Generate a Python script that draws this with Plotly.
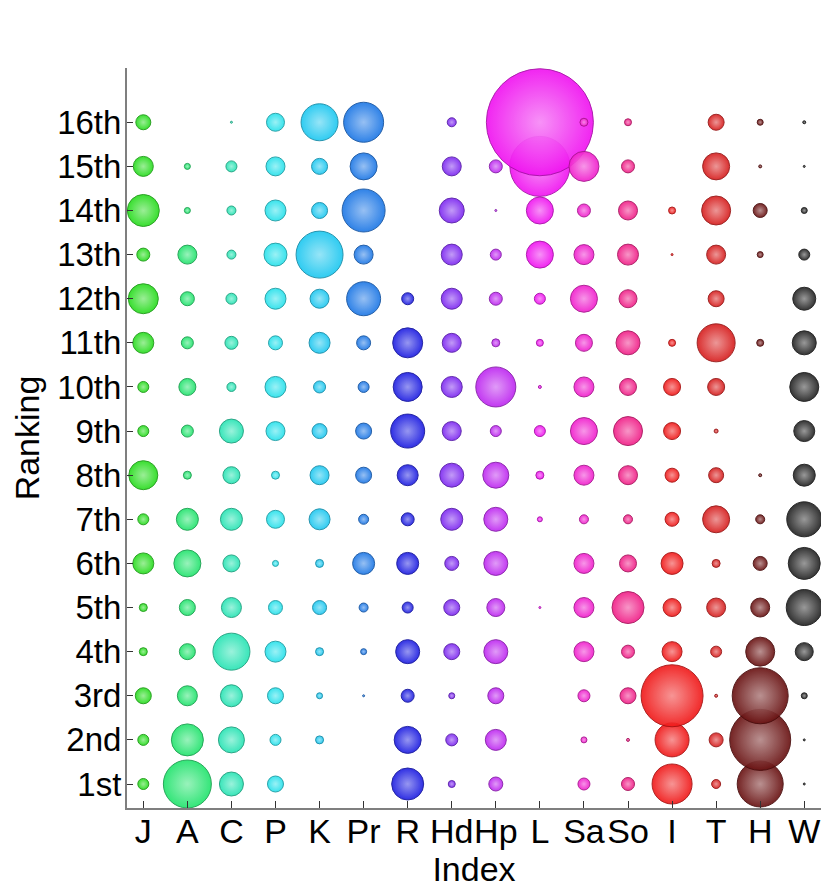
import numpy as np
import plotly.graph_objects as go

# rankings 1st..16th (y), index columns (x)
ranks = ["1st", "2nd", "3rd", "4th", "5th", "6th", "7th", "8th",
         "9th", "10th", "11th", "12th", "13th", "14th", "15th", "16th"]
indices = ["J", "A", "C", "P", "K", "Pr", "R", "Hd", "Hp", "L",
           "Sa", "So", "I", "T", "H", "W"]

# bubble weights per index, listed 1st -> 16th (0 = no bubble)
J  = [11, 11, 16, 8, 8, 21, 11, 29, 11, 11, 21, 30, 13, 32, 20, 15]
A  = [48, 32, 20, 16, 16, 27, 22, 8, 12, 17, 12, 14, 19, 6, 6, 0]
C  = [24, 26, 22, 37, 20, 17, 22, 17, 24, 9, 13, 11, 9, 9, 11, 2]
P  = [16, 11, 16, 21, 14, 6, 18, 8, 19, 21, 14, 21, 23, 21, 19, 18]
K  = [0, 8, 6, 8, 14, 8, 21, 19, 15, 12, 21, 19, 47, 16, 16, 37]
Pr = [0, 0, 2, 6, 9, 22, 10, 16, 16, 11, 14, 34, 19, 43, 27, 40]
R  = [32, 27, 13, 24, 11, 22, 13, 21, 34, 29, 30, 12, 0, 0, 0, 0]
Hd = [7, 12, 6, 16, 16, 14, 22, 24, 19, 21, 19, 21, 21, 25, 19, 9]
Hp = [14, 21, 16, 24, 18, 24, 24, 26, 11, 40, 8, 13, 11, 2, 13, 0]
L  = [0, 0, 0, 0, 2, 0, 5, 8, 11, 3, 7, 11, 27, 27, 60, 107]
Sa = [12, 6, 12, 20, 20, 20, 9, 20, 27, 20, 17, 27, 20, 13, 30, 8]
So = [13, 3, 16, 13, 32, 17, 9, 19, 29, 17, 24, 18, 21, 19, 13, 7]
I  = [40, 34, 62, 20, 18, 22, 14, 14, 17, 17, 7, 0, 2, 7, 0, 0]
T  = [9, 14, 3, 11, 19, 8, 27, 15, 4, 17, 38, 16, 19, 29, 27, 16]
H  = [46, 61, 56, 29, 19, 14, 9, 3, 0, 0, 7, 0, 6, 14, 3, 6]
W  = [2, 2, 6, 18, 36, 32, 35, 22, 21, 29, 24, 23, 11, 6, 2, 3]

series = [J, A, C, P, K, Pr, R, Hd, Hp, L, Sa, So, I, T, H, W]

colors = [(40, 220, 30), (35, 228, 110), (40, 228, 180), (40, 225, 235),
          (30, 200, 240), (30, 120, 230), (30, 30, 225), (125, 40, 240),
          (190, 40, 240), (240, 20, 240), (240, 30, 205), (240, 30, 135),
          (240, 25, 25), (215, 30, 30), (105, 18, 18), (35, 35, 35)]


def rgb(c):
    return "rgb(%d,%d,%d)" % c


def tint(c, f):
    return tuple(int(v + (255 - v) * f) for v in c)


def shade(c, f):
    return tuple(int(v * f) for v in c)


fig = go.Figure()
for i, (name, vals, col) in enumerate(zip(indices, series, colors)):
    vals = np.array(vals)
    keep = vals > 0
    fig.add_trace(go.Scatter(
        x=np.full(keep.sum(), i + 1),
        y=np.arange(1, 17)[keep],
        mode="markers",
        name=name,
        marker=dict(
            size=vals[keep],
            sizemode="diameter",
            sizeref=1,
            color=rgb(col),
            opacity=0.92,
            gradient=dict(type="radial", color=rgb(tint(col, 0.5))),
            line=dict(color=rgb(shade(col, 0.7)), width=1),
        ),
        hovertext=[name + " " + r for r, k in zip(ranks, keep) if k],
        hoverinfo="text",
    ))

fnt = dict(family="Liberation Sans, Arial, sans-serif", size=34, color="black")
yfnt = dict(fnt, size=33)

# page body adds an 8px margin, so the figure is a little smaller than the window
fig.update_layout(
    width=814, height=880,
    margin=dict(l=119, r=1, t=60, b=80),
    paper_bgcolor="white", plot_bgcolor="white",
    showlegend=False,
    font=fnt,
    xaxis=dict(
        range=[0.63, 16.38],
        tickmode="array", tickvals=list(range(1, 17)), ticktext=indices,
        tickangle=0, automargin=False,
        ticks="inside", ticklen=7, tickcolor="#333",
        ticklabelstandoff=-8,
        showline=True, linecolor="#7f7f7f", linewidth=2,
        showgrid=False, zeroline=False,
        tickfont=fnt,
        title=dict(text="Index", font=fnt, standoff=0),
    ),
    yaxis=dict(
        range=[0.456, 17.23],
        tickmode="array", tickvals=list(range(1, 17)), ticktext=ranks,
        automargin=False,
        ticks="inside", ticklen=6, tickcolor="#333",
        ticklabelstandoff=-3,
        showline=True, linecolor="#7f7f7f", linewidth=2,
        showgrid=False, zeroline=False,
        tickfont=yfnt,
        title=dict(text="Ranking", font=fnt, standoff=12),
    ),
)

fig.write_html("out.html")
